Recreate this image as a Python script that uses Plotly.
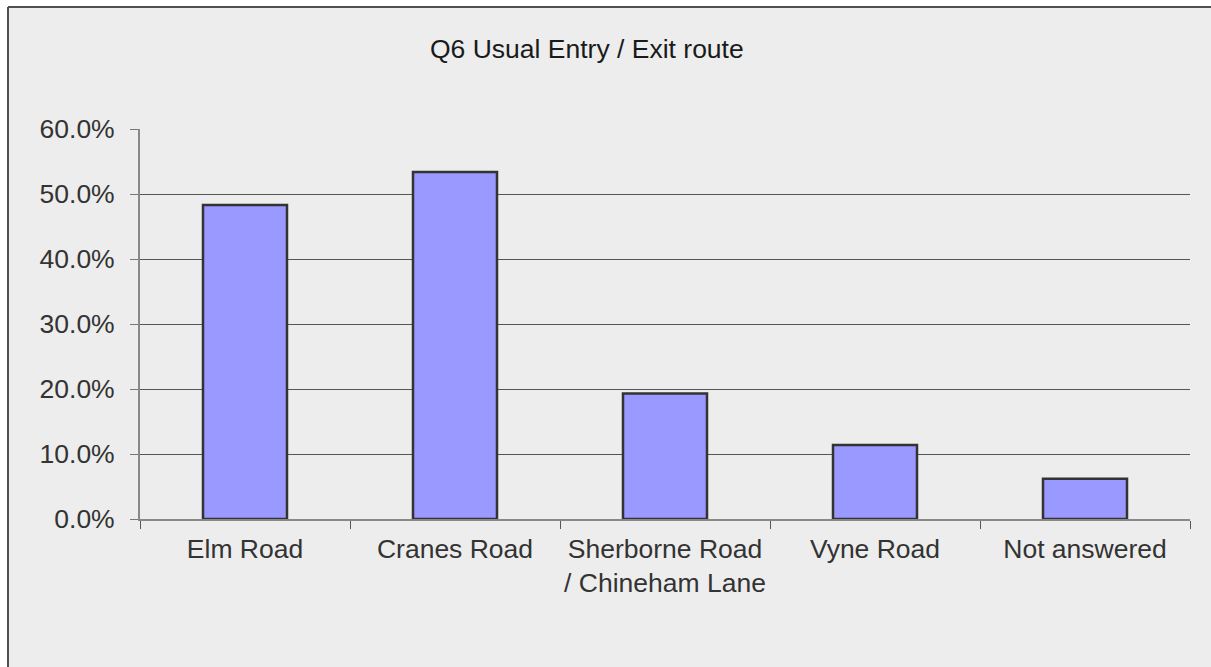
import plotly.graph_objects as go

# Survey answers: usual entry / exit route
categories = ["Elm Road", "Cranes Road", "Sherborne Road<br>/ Chineham Lane", "Vyne Road", "Not answered"]
shares = [0.483, 0.534, 0.193, 0.114, 0.062]
y_ticks = [0, 0.1, 0.2, 0.3, 0.4, 0.5, 0.6]

W, H = 1211, 667
L, R, T, B = 140, 21, 129, 148

fig = go.Figure(
    go.Bar(
        x=categories,
        y=shares,
        marker=dict(color="#9999ff", line=dict(color="#333333", width=2.5)),
        width=0.4,
        hoverinfo="skip",
    )
)

# frame geometry in paper units
pw, ph = W - L - R, H - T - B
def px_x(p):
    return (p - L) / pw
def px_y(p):
    return (H - B - p) / ph

# white page strips above and left of the grey chart area, with its border
fig.add_shape(
    type="rect", xref="paper", yref="paper",
    x0=px_x(0), x1=px_x(W), y0=px_y(7), y1=px_y(0),
    fillcolor="white", line=dict(width=0), layer="below",
)
fig.add_shape(
    type="rect", xref="paper", yref="paper",
    x0=px_x(0), x1=px_x(8), y0=px_y(H), y1=px_y(0),
    fillcolor="white", line=dict(width=0), layer="below",
)
fig.add_shape(
    type="line", xref="paper", yref="paper",
    x0=px_x(8), x1=px_x(W), y0=px_y(7), y1=px_y(7),
    line=dict(color="#505050", width=2), layer="below",
)
fig.add_shape(
    type="line", xref="paper", yref="paper",
    x0=px_x(8), x1=px_x(8), y0=px_y(H), y1=px_y(7),
    line=dict(color="#505050", width=2), layer="below",
)

fig.add_annotation(
    text="Q6 Usual Entry / Exit route", xref="paper", yref="paper",
    x=px_x(587), y=px_y(49), xanchor="center", yanchor="middle", showarrow=False,
    font=dict(family="Liberation Sans, Arial, sans-serif", size=26.5, color="#1a1a1a"),
)

fig.update_layout(
    width=W, height=H,
    margin=dict(l=L, r=R, t=T, b=B, pad=0, autoexpand=False),
    paper_bgcolor="#ededed",
    plot_bgcolor="rgba(0,0,0,0)",
    showlegend=False,
    font=dict(family="Liberation Sans, Arial, sans-serif", size=26.5, color="#333333"),
    xaxis=dict(
        type="category",
        tickson="boundaries",
        tickangle=0,
        automargin=False,
        ticks="outside", ticklen=8, tickcolor="#555555", tickwidth=1,
        showline=True, linecolor="#888888", linewidth=2,
        showgrid=False,
        ticklabelstandoff=5,
    ),
    yaxis=dict(
        range=[0, 0.6],
        tickvals=y_ticks,
        tickformat=".1%",
        automargin=False,
        ticks="outside", ticklen=8, tickcolor="#777777", tickwidth=1,
        showline=True, linecolor="#888888", linewidth=2,
        showgrid=True, gridcolor="#555555", gridwidth=1,
        zeroline=False,
        ticklabelstandoff=10,
    ),
)

fig.write_html("out.html")
